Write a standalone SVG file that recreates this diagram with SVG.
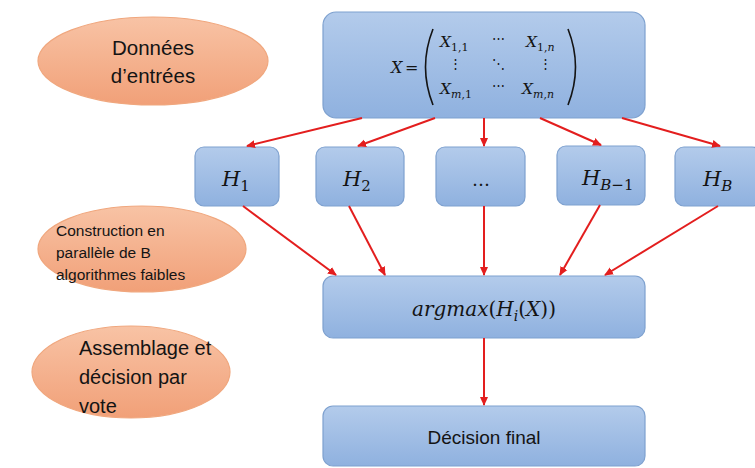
<svg xmlns="http://www.w3.org/2000/svg" width="755" height="468" viewBox="0 0 755 468">
<defs>
<linearGradient id="gBlue" x1="0" y1="0" x2="0" y2="1">
<stop offset="0" stop-color="#b3cbeb"/>
<stop offset="1" stop-color="#8fb1df"/>
</linearGradient>
<linearGradient id="gOrange" x1="0" y1="0" x2="0" y2="1">
<stop offset="0" stop-color="#f8c3a5"/>
<stop offset="1" stop-color="#f1a078"/>
</linearGradient>
<marker id="ah" markerWidth="10" markerHeight="10" refX="8" refY="5" orient="auto" markerUnits="userSpaceOnUse">
<path d="M0,1 L9,5 L0,9 Z" fill="#e31e1e"/>
</marker>
</defs>
<style>
.box{fill:url(#gBlue);stroke:#7ea1cf;stroke-width:1.2}
.ell{fill:url(#gOrange);stroke:#f0a77e;stroke-width:1.2}
.txt{font-family:"Liberation Sans",Arial,sans-serif;fill:#141414}
.m{font-family:"DejaVu Serif","Liberation Serif",serif;font-style:italic;fill:#141414}
.mu{font-family:"DejaVu Serif","Liberation Serif",serif;fill:#141414}
.c{stroke:#e31e1e;stroke-width:2;fill:none;marker-end:url(#ah)}
</style>
<rect width="755" height="468" fill="#ffffff"/>

<g id="donnees">
<ellipse class="ell" cx="153" cy="61" rx="115" ry="44"/>
<text class="txt" x="153" y="55" font-size="20.5" text-anchor="middle">Données</text>
<text class="txt" x="153" y="83" font-size="20.5" text-anchor="middle">d’entrées</text>
</g>

<g id="construction">
<ellipse class="ell" cx="142" cy="249" rx="104" ry="43"/>
<text class="txt" x="56" y="236" font-size="15.5">Construction en</text>
<text class="txt" x="56" y="258" font-size="15.5">parallèle de B</text>
<text class="txt" x="56" y="280" font-size="15.5">algorithmes faibles</text>
</g>

<g id="assemblage">
<ellipse class="ell" cx="131" cy="372" rx="99" ry="46"/>
<text class="txt" x="79" y="355" font-size="20">Assemblage et</text>
<text class="txt" x="79" y="384" font-size="20">décision par</text>
<text class="txt" x="79" y="413" font-size="20">vote</text>
</g>

<g id="matrix">
<rect class="box" x="323" y="12" width="322" height="106" rx="13"/>
<text class="m" x="391" y="73" font-size="16">X</text>
<text class="mu" x="405" y="73" font-size="16">=</text>
<path d="M433,29 Q418,67 433,105" fill="none" stroke="#141414" stroke-width="1.6"/>
<path d="M568,29 Q583,67 568,105" fill="none" stroke="#141414" stroke-width="1.6"/>
<text class="m" x="440" y="47" font-size="15.5">X<tspan font-size="11" dy="4" font-style="normal">1,1</tspan></text>
<text class="mu" x="498" y="43" font-size="13" text-anchor="middle">⋯</text>
<text class="m" x="526" y="47" font-size="15.5">X<tspan font-size="11" dy="4" font-style="normal">1,</tspan><tspan font-size="11" font-style="italic">n</tspan></text>
<text class="mu" x="455" y="68" font-size="13" text-anchor="middle">⋮</text>
<text class="mu" x="498" y="68" font-size="13" text-anchor="middle">⋱</text>
<text class="mu" x="545" y="68" font-size="13" text-anchor="middle">⋮</text>
<text class="m" x="440" y="94" font-size="15.5">X<tspan font-size="11" dy="4">m</tspan><tspan font-size="11" font-style="normal">,1</tspan></text>
<text class="mu" x="498" y="90" font-size="13" text-anchor="middle">⋯</text>
<text class="m" x="522" y="94" font-size="15.5">X<tspan font-size="11" dy="4">m</tspan><tspan font-size="11" font-style="normal">,</tspan><tspan font-size="11">n</tspan></text>
</g>

<g id="h1">
<rect class="box" x="195" y="147" width="84" height="59" rx="9"/>
<text class="m" x="222" y="186" font-size="21">H<tspan font-size="15" dy="5" font-style="normal">1</tspan></text>
</g>
<g id="h2">
<rect class="box" x="316" y="147" width="88" height="59" rx="9"/>
<text class="m" x="343" y="186" font-size="21">H<tspan font-size="15" dy="5" font-style="normal">2</tspan></text>
</g>
<g id="hdots">
<rect class="box" x="436" y="147" width="89" height="59" rx="9"/>
<text class="mu" x="481" y="186" font-size="18" text-anchor="middle">…</text>
</g>
<g id="hb1">
<rect class="box" x="557" y="146" width="88" height="59" rx="9"/>
<text class="m" x="582" y="185" font-size="21">H<tspan font-size="15" dy="5">B</tspan><tspan font-size="15" font-style="normal">−1</tspan></text>
</g>
<g id="hb">
<rect class="box" x="675" y="147" width="86" height="59" rx="9"/>
<text class="m" x="703" y="186" font-size="21">H<tspan font-size="15" dy="5">B</tspan></text>
</g>

<g id="argmax">
<rect class="box" x="323" y="276" width="322" height="62" rx="10"/>
<text class="m" x="484" y="316" font-size="20" text-anchor="middle">argmax<tspan font-style="normal">(</tspan>H<tspan font-size="14" dy="5">i</tspan><tspan dy="-5" font-style="normal">(</tspan>X<tspan font-style="normal">))</tspan></text>
</g>

<g id="decision">
<rect class="box" x="323" y="406" width="322" height="60" rx="10"/>
<text class="txt" x="484" y="444" font-size="19" text-anchor="middle">Décision final</text>
</g>

<g id="connectors">
<line class="c" x1="362" y1="118" x2="247" y2="146"/>
<line class="c" x1="435" y1="118" x2="358" y2="146"/>
<line class="c" x1="484" y1="118" x2="484" y2="146"/>
<line class="c" x1="540" y1="118" x2="601" y2="145"/>
<line class="c" x1="622" y1="118" x2="720" y2="146"/>
<line class="c" x1="243" y1="206" x2="336" y2="275"/>
<line class="c" x1="349" y1="206" x2="385" y2="275"/>
<line class="c" x1="484" y1="206" x2="484" y2="275"/>
<line class="c" x1="600" y1="205" x2="560" y2="275"/>
<line class="c" x1="718" y1="206" x2="605" y2="275"/>
<line class="c" x1="484" y1="338" x2="484" y2="405"/>
</g>
</svg>
